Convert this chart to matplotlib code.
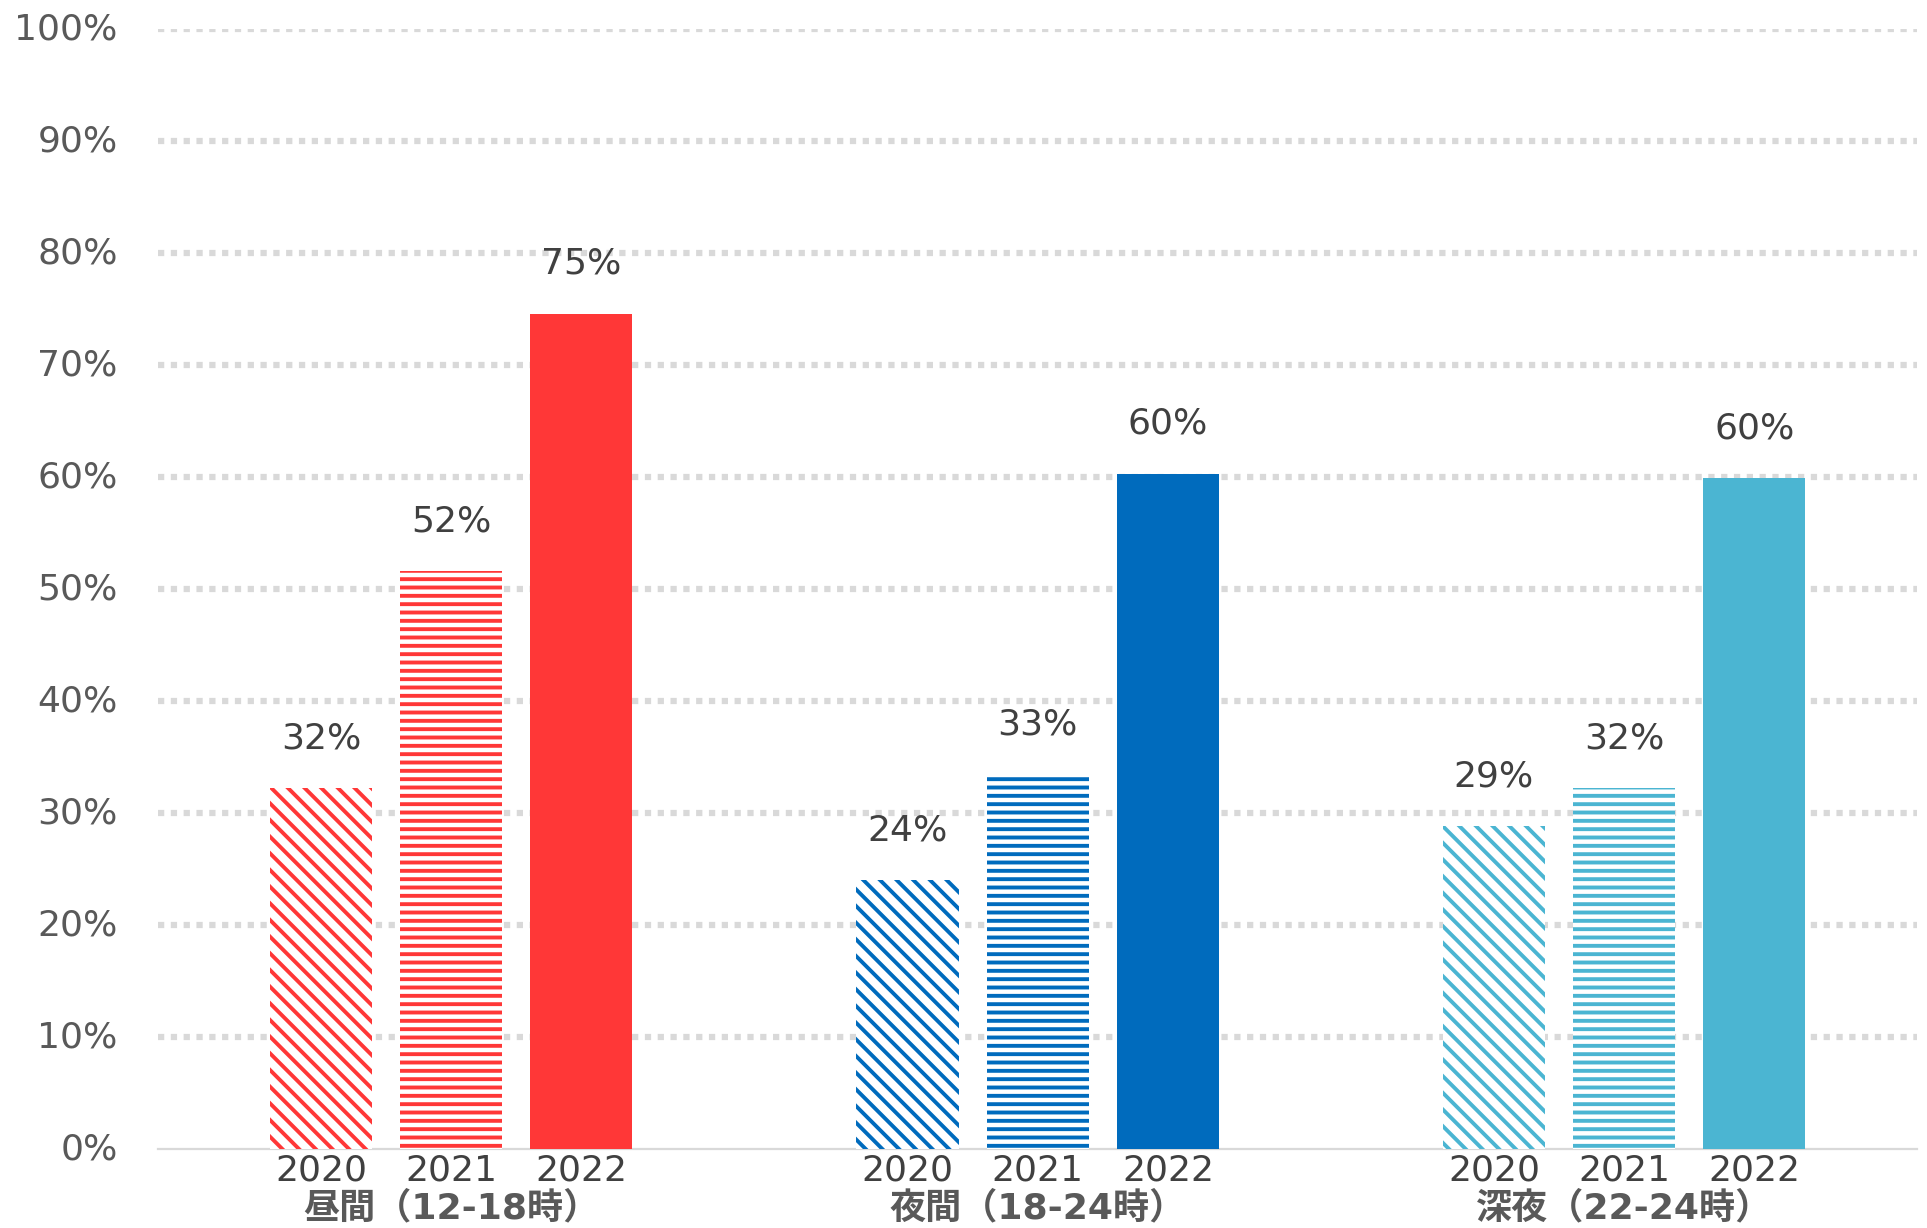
import numpy as np
import matplotlib
matplotlib.use("Agg")
import matplotlib.pyplot as plt

plt.rcParams['font.family'] = ['DejaVu Sans', 'Noto Sans CJK JP']
plt.rcParams['hatch.linewidth'] = 2.8

categories = ["昼間（12-18時）", "夜間（18-24時）", "深夜（22-24時）"]
years = ["2020", "2021", "2022"]
# values (percent)
values_2020 = [32.2, 24.0, 28.8]
values_2021 = [51.6, 33.4, 32.2]
values_2022 = [74.6, 60.3, 59.9]
colors = ["#FF3737", "#006BBD", "#4BB5D2"]
hatches = ["\\\\", "--", None]

fig = plt.figure(figsize=(19.27, 12.28), dpi=100)
ax = fig.add_axes([0.082, 0.0643, 0.913, 0.912])

series = [values_2020, values_2021, values_2022]
pitch = 0.222
width = 0.174
x = np.arange(len(categories))

tick_pos = []
tick_lab = []
for j, vals in enumerate(series):
    offs = (j - 1) * pitch
    for i, v in enumerate(vals):
        c = colors[i]
        if hatches[j] is None:
            ax.bar(x[i] + offs, v, width, color=c, linewidth=0, zorder=3)
        else:
            ax.bar(x[i] + offs, v, width, facecolor="white", edgecolor=c,
                   hatch=hatches[j], linewidth=0, zorder=3)
        ax.annotate(f"{v:.0f}%", (x[i] + offs, v), xytext=(0, 36),
                    textcoords="offset points", ha="center", va="center",
                    fontsize=26, color="#404040")
        tick_pos.append(x[i] + offs)
        tick_lab.append(years[j])

ax.set_xlim(-0.5, 2.5)
ax.set_ylim(0, 100)
ax.set_yticks(np.arange(0, 101, 10))
ax.set_yticklabels([f"{t}%" for t in range(0, 101, 10)], fontsize=26, color="#595959",
                   va="center")
ax.set_xticks(tick_pos)
ax.set_xticklabels(tick_lab, fontsize=26, color="#404040")
ax.tick_params(axis="both", length=0)
ax.tick_params(axis="y", pad=29)
ax.tick_params(axis="x", pad=3)

for t in range(10, 101, 10):
    ax.axhline(t, color="#D9D9D9", lw=4.5, linestyle=(0, (1, 1.05)),
               dash_capstyle="butt", zorder=1)

for s in ["top", "right", "left"]:
    ax.spines[s].set_visible(False)
ax.spines["bottom"].set_color("#D9D9D9")
ax.spines["bottom"].set_linewidth(1.6)

for i, cat in enumerate(categories):
    ax.text(x[i], -0.0525, cat, transform=ax.get_xaxis_transform(),
            ha="center", va="center", fontsize=26, fontweight="bold",
            color="#595959", family=['DejaVu Sans', 'Noto Sans CJK JP'])

fig.savefig("out.png", dpi=100)
